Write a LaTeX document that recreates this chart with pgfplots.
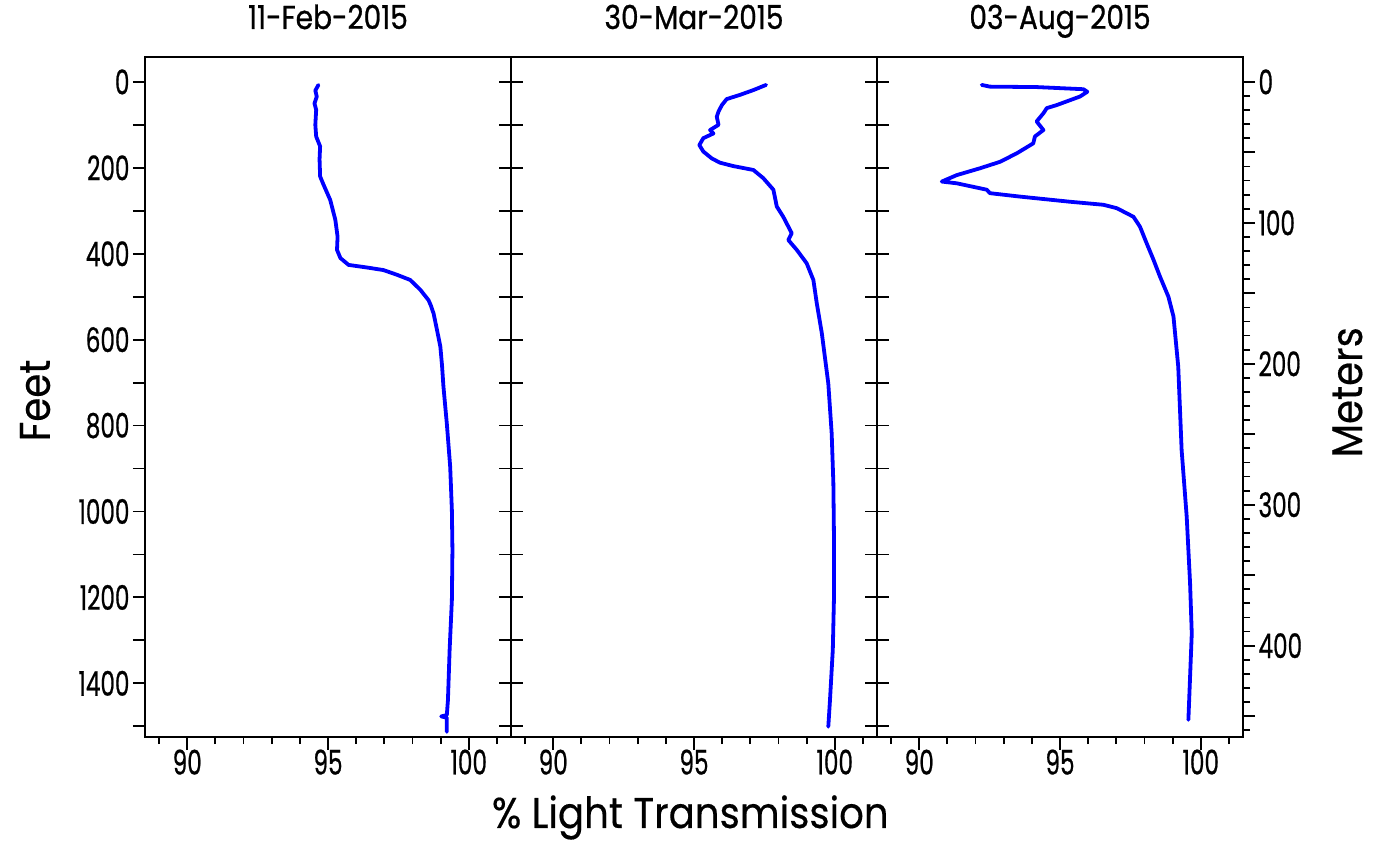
\documentclass[border=0pt]{standalone}
\usepackage{fontspec}
\setmainfont{Poppins}
\newfontfamily\tickfont[FakeStretch=0.68, FakeBold=0.6]{Poppins}
\newfontfamily\titlefont[FakeStretch=0.85, FakeBold=0.8]{Poppins}
\newfontfamily\labfont[FakeStretch=0.9, FakeBold=0.4]{Poppins}
\usepackage{pgfplots}
\pgfplotsset{compat=1.18}
\definecolor{lineblue}{RGB}{0,0,255}
\begin{document}
\begin{tikzpicture}
\path (0pt,0pt) rectangle (1377pt,846pt);
\pgfplotsset{
  panel/.style={scale only axis, width=366pt, height=680pt,
    xmin=88.5, xmax=101.5, ymin=-58, ymax=1525, y dir=reverse,
    anchor=south west,
    axis line style={line width=1.8pt},
    tick style={black, line width=1.8pt},
    /pgf/number format/assume math mode=true,
    /pgf/number format/1000 sep={},
    tick label style={font=\tickfont\fontsize{34}{34}\selectfont},
  },
  mainpanel/.style={panel,
    xtick={90,95,100}, minor xtick={89,91,92,93,94,96,97,98,99,101},
    tick align=outside, xtick pos=left, ytick=\empty,
    major tick length=13pt, minor tick length=7pt,
    xticklabel style={yshift=4pt},
    title style={font=\titlefont\fontsize{33}{33}\selectfont, at={(0.5,1)}, anchor=base, yshift=22pt},
  },
  yover/.style={panel, hide x axis, major tick length=12pt, minor tick length=12pt},
  blueline/.style={lineblue, line width=3.8pt, line join=round, line cap=round, no marks},
}
% ---------------- Panel 1 ----------------
\begin{axis}[mainpanel, at={(145pt,109pt)}, title={11-Feb-2015}]
\addplot[blueline] coordinates {
(94.66,7) (94.55,20) (94.60,34) (94.52,50) (94.58,65) (94.55,100) (94.58,127)
(94.72,150) (94.70,180) (94.72,220) (94.82,236) (95.08,275) (95.26,321)
(95.34,360) (95.32,391) (95.44,410) (95.73,426) (96.38,432) (96.97,438)
(97.45,449) (97.92,461) (98.28,484) (98.57,508) (98.65,520) (98.75,539)
(98.87,577) (98.99,616) (99.05,660) (99.10,709) (99.22,795) (99.34,896)
(99.40,997) (99.42,1090) (99.40,1206) (99.32,1322) (99.26,1439)
(99.22,1474) (99.02,1477) (99.22,1480) (99.22,1513)
};
\end{axis}
\begin{axis}[yover, at={(145pt,109pt)}, axis y line*=left, tick align=outside,
  ytick={0,200,...,1400}, minor ytick={100,300,...,1500},
  ylabel={Feet}, ylabel style={font=\labfont\fontsize{43}{43}\selectfont, at={(axis description cs:-0.3005,0.495)}, anchor=center}]
\end{axis}
\begin{axis}[yover, at={(145pt,109pt)}, axis y line*=right, tick align=inside,
  ytick={0,100,...,1500}, yticklabels={}]
\end{axis}
% ---------------- Panel 2 ----------------
\begin{axis}[mainpanel, at={(511pt,109pt)}, title={30-Mar-2015},
  xlabel={\% Light Transmission},
  xlabel style={font=\labfont\fontsize{43}{43}\selectfont, at={(axis description cs:0.49,-0.1338)}, anchor=base}]
\addplot[blueline] coordinates {
(97.56,7) (97.11,19) (96.64,30) (96.16,40) (95.99,54) (95.87,69) (95.81,81)
(95.87,100) (95.57,112) (95.69,120) (95.33,131) (95.19,147) (95.33,162)
(95.63,178) (95.92,188) (96.40,196) (97.11,205) (97.46,224) (97.82,251)
(97.94,290) (98.17,314) (98.47,352) (98.35,368) (98.65,391) (99.00,422)
(99.24,461) (99.36,515) (99.54,585) (99.77,702) (99.89,818) (99.95,934)
(99.97,1051) (99.97,1206) (99.93,1322) (99.83,1439) (99.77,1501)
};
\end{axis}
\begin{axis}[yover, at={(511pt,109pt)}, ytick pos=both, tick align=inside,
  ytick={0,100,...,1500}, yticklabels={}]
\end{axis}
% ---------------- Panel 3 ----------------
\begin{axis}[mainpanel, at={(877pt,109pt)}, title={03-Aug-2015}]
\addplot[blueline] coordinates {
(92.22,7) (92.51,11) (94.17,12) (95.83,17) (95.97,23) (95.71,34) (94.88,54)
(94.53,61) (94.41,73) (94.17,92) (94.41,112) (94.11,127) (94.05,143)
(93.47,166) (92.87,186) (92.16,201) (91.33,217) (90.80,232) (91.33,236)
(92.40,251) (92.51,259) (93.58,267) (95.36,279) (96.54,286) (97.02,294)
(97.61,314) (97.84,337) (98.08,376) (98.32,414) (98.55,453) (98.85,500)
(99.03,546) (99.20,663) (99.32,857) (99.50,1012) (99.62,1167) (99.68,1284)
(99.62,1385) (99.56,1485)
};
\end{axis}
\begin{axis}[yover, at={(877pt,109pt)}, axis y line*=left, tick align=inside,
  ytick={0,100,...,1500}, yticklabels={}]
\end{axis}
\begin{axis}[yover, at={(877pt,109pt)}, axis y line*=right, tick align=outside,
  ymin=-17.68, ymax=464.82,
  ytick={0,100,...,400}, minor ytick={0,10,...,460},
  extra y ticks={50,150,250,350,450}, extra y tick labels={},
  major tick length=12pt, minor tick length=7pt,
  ylabel={Meters}, ylabel style={font=\labfont\fontsize{43}{43}\selectfont, at={(axis description cs:1.285,0.507)}, anchor=center}]
\end{axis}
\end{tikzpicture}
\end{document}
